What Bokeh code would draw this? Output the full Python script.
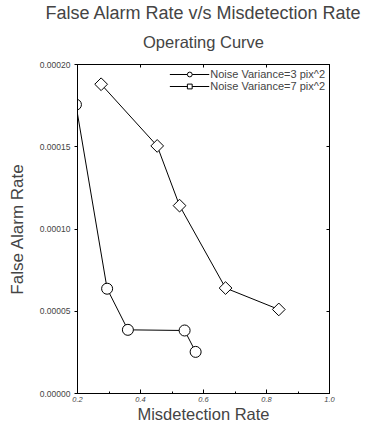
import math
from bokeh.plotting import figure
from bokeh.models import (Title, LinearAxis, PrintfTickFormatter, Range1d, FixedTicker,
                          Legend, LegendItem, CustomJSTickFormatter)
from bokeh.embed import file_html
from bokeh.resources import INLINE

# data
mis_3 = [0.195, 0.294, 0.360, 0.540, 0.575]
fa_3 = [0.0001756, 0.0000637, 0.0000387, 0.0000383, 0.0000253]
mis_7 = [0.275, 0.453, 0.524, 0.670, 0.839]
fa_7 = [0.000188, 0.0001505, 0.0001142, 0.0000641, 0.0000511]
x_ticks = [0.2, 0.4, 0.6, 0.8, 1.0]
x_minor = [0.3, 0.5, 0.7, 0.9]
y_ticks = [0.0, 0.00005, 0.0001, 0.00015, 0.0002]
series_labels = ["Noise Variance=3 pix^2", "Noise Variance=7 pix^2"]

FONT = "Liberation Sans"

p = figure(width=385, height=425, output_backend="svg", toolbar_location=None,
           x_range=Range1d(0.2, 1.0), y_range=Range1d(0.0, 0.0002),
           title=None, min_border_left=77, min_border_right=56,
           min_border_top=64, min_border_bottom=29)
p.grid.visible = False
p.outline_line_color = "black"
p.outline_line_width = 1
p.background_fill_color = "white"
p.border_fill_color = "white"

for ax in p.xaxis:
    ax.ticker = FixedTicker(ticks=x_ticks, minor_ticks=x_minor)
    ax.formatter = PrintfTickFormatter(format="%.1f")
    ax.major_tick_in = 4
    ax.major_tick_out = 0
    ax.minor_tick_in = 2
    ax.minor_tick_out = 0
    ax.major_label_text_font = FONT
    ax.major_label_text_font_style = "italic"
    ax.major_label_text_font_size = "7.5px"
    ax.major_label_standoff = 3
    ax.axis_label = "Misdetection Rate"
    ax.axis_label_text_font = FONT
    ax.axis_label_text_font_style = "normal"
    ax.axis_label_text_font_size = "16.5px"
    ax.axis_label_standoff = 0
    ax.axis_line_color = "black"

for ax in p.yaxis:
    ax.ticker = FixedTicker(ticks=y_ticks, minor_ticks=[])
    ax.formatter = PrintfTickFormatter(format="%.5f")
    ax.major_tick_in = 0
    ax.major_tick_out = 3
    ax.major_label_text_font = FONT
    ax.major_label_text_font_size = "8.5px"
    ax.major_label_standoff = 4
    ax.axis_label = "False Alarm Rate"
    ax.axis_label_text_font = FONT
    ax.axis_label_text_font_style = "normal"
    ax.axis_label_text_font_size = "17px"
    ax.axis_label_standoff = 10

blank = CustomJSTickFormatter(code="return ''")
top_ax = LinearAxis(ticker=FixedTicker(ticks=x_ticks, minor_ticks=[]), formatter=blank,
                    major_tick_in=3, major_tick_out=0, minor_tick_in=0, minor_tick_out=0,
                    major_label_standoff=0)
p.add_layout(top_ax, "above")
right_ax = LinearAxis(ticker=FixedTicker(ticks=y_ticks, minor_ticks=[]), formatter=blank,
                      major_tick_in=3, major_tick_out=0, minor_tick_in=0, minor_tick_out=0,
                      major_label_standoff=0)
p.add_layout(right_ax, "right")

p.add_layout(Title(text="Operating Curve", align="center", text_font=FONT,
                   text_font_size="16.5px", text_font_style="normal", standoff=28), "above")
p.add_layout(Title(text="False Alarm Rate v/s Misdetection Rate", align="center", text_font=FONT,
                   text_font_size="18px", text_font_style="normal", standoff=-13), "above")

l1 = p.line(mis_3, fa_3, line_color="black", line_width=1)
s1 = p.scatter(mis_3, fa_3, marker="circle", size=11, fill_color="white", line_color="black", line_width=1)
l2 = p.line(mis_7, fa_7, line_color="black", line_width=1)
s2 = p.scatter(mis_7, fa_7, marker="square", size=9, angle=math.pi / 4,
               fill_color="white", line_color="black", line_width=1)

legend = Legend(items=[LegendItem(label=series_labels[0], renderers=[l1, s1]),
                       LegendItem(label=series_labels[1], renderers=[l2, s2])],
                location="top_right", border_line_alpha=0, background_fill_alpha=0,
                label_text_font=FONT, label_text_font_size="11px",
                glyph_width=40, glyph_height=12, label_height=12, spacing=0,
                padding=2, margin=2, label_standoff=1)
p.add_layout(legend)

open("out.html", "w").write(file_html(p, INLINE))
